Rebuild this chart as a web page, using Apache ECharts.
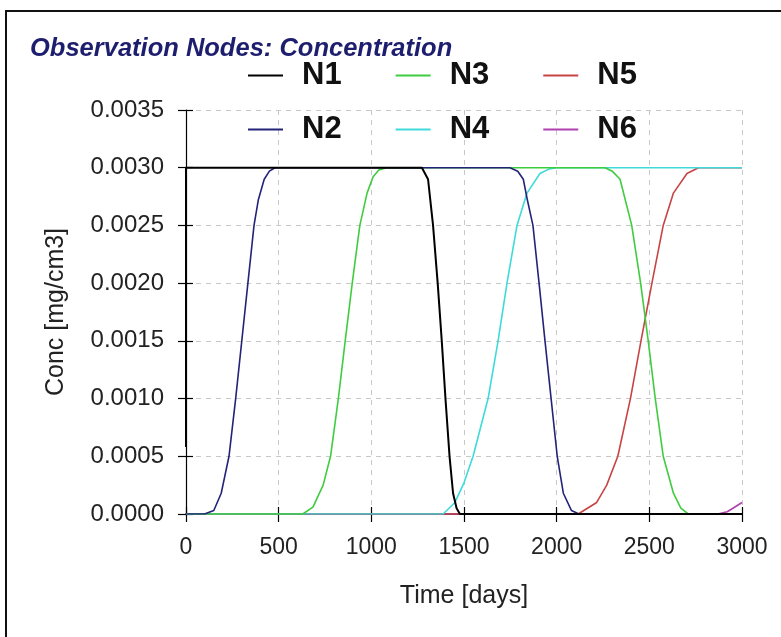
<!DOCTYPE html>
<html>
<head>
<meta charset="utf-8">
<script src="https://cdn.jsdelivr.net/npm/echarts@6/dist/echarts.min.js"></script>
<style>
  html, body { margin: 0; padding: 0; background: #fff; }
  #chart { width: 781px; height: 637px; }
</style>
</head>
<body>
<div id="chart"></div>
<script>
// [time (days), conc (mg/cm3)]
const n1 = [[0, 0.00058], [0, 0.003], [1273, 0.003], [1306, 0.0029], [1333, 0.0025], [1358, 0.002],
  [1380, 0.0015], [1400, 0.001], [1422, 0.0005], [1441, 0.00018], [1460, 0.00005], [1478, 0], [3000, 0]];
const n2 = [[0, 0], [100, 0], [150, 0.00003], [190, 0.00018], [232, 0.0005], [268, 0.001], [301, 0.0015],
  [334, 0.002], [367, 0.0025], [390, 0.00272], [422, 0.0029], [450, 0.00297], [480, 0.003],
  [1748, 0.003], [1790, 0.00297], [1820, 0.0029], [1842, 0.00272], [1872, 0.0025], [1905, 0.002],
  [1937, 0.0015], [1970, 0.001], [2003, 0.0005], [2036, 0.00018], [2080, 0.00003], [2120, 0], [3000, 0]];
const n3 = [[0, 0], [630, 0], [685, 0.00006], [740, 0.00025], [780, 0.0005], [822, 0.001], [859, 0.0015],
  [897, 0.002], [938, 0.0025], [977, 0.00278], [1009, 0.00292], [1040, 0.00298], [1083, 0.003],
  [2261, 0.003], [2300, 0.00297], [2342, 0.0029], [2405, 0.0025], [2453, 0.002], [2494, 0.0015],
  [2532, 0.001], [2575, 0.0005], [2630, 0.00018], [2670, 0.00005], [2710, 0], [3000, 0]];
const n4 = [[0, 0], [1387, 0], [1451, 0.0001], [1500, 0.00027], [1549, 0.0005], [1630, 0.001],
  [1684, 0.0015], [1732, 0.002], [1786, 0.0025], [1840, 0.00278], [1910, 0.00295], [1960, 0.00299],
  [2000, 0.003], [3000, 0.003]];
const n5 = [[0, 0], [2116, 0], [2216, 0.0001], [2270, 0.00025], [2330, 0.0005], [2398, 0.001],
  [2455, 0.0015], [2514, 0.002], [2575, 0.0025], [2630, 0.00278], [2703, 0.00295], [2765, 0.003],
  [3000, 0.003]];
const n6 = [[0, 0], [2870, 0], [2920, 0.00002], [2951, 0.00005], [3000, 0.0001]];

const names = ['N1', 'N2', 'N3', 'N4', 'N5', 'N6'];
const colors = ['#000000', '#23237a', '#3fcc3f', '#3fdada', '#c84444', '#b040b0'];
const seriesData = [n1, n2, n3, n4, n5, n6];

const font = "'Liberation Sans', Arial, sans-serif";

const chart = echarts.init(document.getElementById('chart'));

const legendBase = {
  left: 248,
  padding: 0,
  icon: 'rect',
  itemWidth: 35,
  itemHeight: 2,
  itemGap: 54,
  selectedMode: false,
  textStyle: { fontFamily: font, fontSize: 31, fontWeight: 'bold', color: '#111', padding: [0, 0, 0, 14] }
};

const axisTickStyle = { lineStyle: { color: '#000', width: 1.2 } };

chart.setOption({
  animation: false,
  backgroundColor: '#fff',
  color: colors,
  title: {
    text: 'Observation Nodes: Concentration',
    left: 30,
    top: 36,
    padding: 0,
    textStyle: { fontFamily: font, fontSize: 25.5, fontWeight: 'bold', fontStyle: 'italic', color: '#1e1e6e' }
  },
  legend: [
    Object.assign({}, legendBase, { top: 60, data: ['N1', 'N3', 'N5'] }),
    Object.assign({}, legendBase, { top: 114, data: ['N2', 'N4', 'N6'] })
  ],
  grid: { left: 186, right: 39, top: 110, bottom: 123 },
  xAxis: [{
    type: 'value', min: 0, max: 3000, interval: 500,
    name: 'Time [days]', nameLocation: 'middle', nameGap: 70,
    nameTextStyle: { fontFamily: font, fontSize: 25, color: '#222' },
    axisLine: { show: true, lineStyle: { color: '#000', width: 1.5 } },
    axisTick: Object.assign({ show: true, length: 8, inside: false }, axisTickStyle),
    axisLabel: { fontFamily: font, fontSize: 23, color: '#222', margin: 22, formatter: v => String(v) },
    splitLine: { show: true, lineStyle: { color: '#c8c8c8', type: [5, 5], width: 1 } }
  }, {
    type: 'value', min: 0, max: 3000, interval: 500, position: 'bottom',
    axisLine: { show: false },
    axisTick: Object.assign({ show: true, length: 7, inside: true }, axisTickStyle),
    axisLabel: { show: false },
    splitLine: { show: false }
  }],
  yAxis: [{
    type: 'value', min: 0, max: 0.0035, interval: 0.0005,
    name: 'Conc [mg/cm3]', nameLocation: 'middle', nameGap: 117,
    nameTextStyle: { fontFamily: font, fontSize: 25, color: '#222' },
    axisLine: { show: true, lineStyle: { color: '#000', width: 1.2 } },
    axisTick: Object.assign({ show: true, length: 8, inside: false }, axisTickStyle),
    axisLabel: { fontFamily: font, fontSize: 24, color: '#222', margin: 22, formatter: v => v.toFixed(4) },
    splitLine: { show: true, lineStyle: { color: '#c8c8c8', type: [5, 5], width: 1 } }
  }, {
    type: 'value', min: 0, max: 0.0035, interval: 0.0005, position: 'left',
    axisLine: { show: false },
    axisTick: Object.assign({ show: true, length: 7, inside: true }, axisTickStyle),
    axisLabel: { show: false },
    splitLine: { show: false }
  }],
  graphic: [{
    type: 'rect',
    shape: { x: 6, y: 11, width: 800, height: 700 },
    style: { fill: 'none', stroke: '#111', lineWidth: 2 },
    silent: true
  }],
  series: seriesData.map((d, i) => ({
    name: names[i],
    type: 'line',
    data: d,
    z: 8 - i,
    symbol: 'none',
    lineStyle: { width: i === 0 ? 2 : 1.6, color: colors[i] },
    itemStyle: { color: colors[i] }
  }))
});
</script>
</body>
</html>
